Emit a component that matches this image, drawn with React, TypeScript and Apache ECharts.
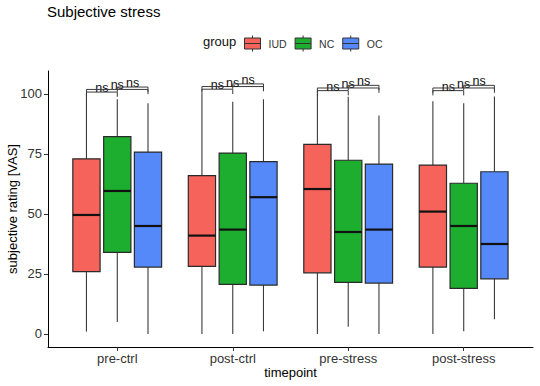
import React, { useEffect, useRef } from 'react';
import * as echarts from 'echarts';

const timepoints = ['pre-ctrl', 'post-ctrl', 'pre-stress', 'post-stress'];
const groups = ['IUD', 'NC', 'OC'];
const groupColors = ['#F5635B', '#1DAE30', '#5589FA'];
const yTicks = [0, 25, 50, 75, 100];
const xTicks = [1, 2, 3, 4];

// [min, Q1, median, Q3, max] per timepoint
const iudStats = [
  [1, 26, 49.6, 73, 100],
  [0, 28.2, 41, 66, 100],
  [0, 25.5, 60.4, 79, 100],
  [0, 27.9, 51, 70.4, 97],
];
const ncStats = [
  [5, 34, 59.6, 82.2, 97.8],
  [0, 20.7, 43.5, 75.4, 96.8],
  [3, 21.5, 42.5, 72.4, 98.9],
  [1.1, 19, 45, 62.8, 96.1],
];
const ocStats = [
  [0, 27.9, 45, 75.8, 96.1],
  [1.1, 20.4, 57, 71.8, 97.8],
  [0, 21.2, 43.5, 70.8, 91],
  [6.1, 23, 37.5, 67.6, 99],
];
const groupStats = [iudStats, ncStats, ocStats];

// pairwise comparisons (group indices) and bracket heights per timepoint
const comparisons = [[0, 1], [0, 2], [1, 2]];
const bracketLevels = [
  [100.8, 101.9, 102.9],
  [102.0, 103.1, 104.2],
  [101.4, 102.5, 103.6],
  [101.4, 102.5, 103.6],
];
const bracketLabel = 'ns';

const FONT = '"Liberation Sans", Arial, Helvetica, sans-serif';
const dodge = [-0.267, 0, 0.266];
const boxHalf = 0.118;
const tipLen = 2;
const keyPath = 'path://M0 2.5 L16 2.5 L16 13.5 L0 13.5 Z M0 8 L16 8 M8 0 L8 2.5 M8 13.5 L8 16';

export default function App() {
  const ref = useRef<HTMLDivElement>(null);
  useEffect(() => {
    if (!ref.current) return;
    const chart = echarts.init(ref.current, null, { renderer: 'svg' });

    const boxSeries = groups.map((g, gi) => ({
      type: 'custom',
      name: g,
      itemStyle: { color: groupColors[gi] },
      encode: { x: 0, y: [1, 2, 3, 4, 5] },
      data: groupStats[gi].map((s, ti) => [xTicks[ti], ...s]),
      renderItem: (params: any, api: any) => {
        const cx = api.value(0) + dodge[gi];
        const pMin = api.coord([cx, api.value(1)]);
        const pQ1 = api.coord([cx, api.value(2)]);
        const pMed = api.coord([cx, api.value(3)]);
        const pQ3 = api.coord([cx, api.value(4)]);
        const pMax = api.coord([cx, api.value(5)]);
        const left = api.coord([cx - boxHalf, 0])[0];
        const right = api.coord([cx + boxHalf, 0])[0];
        return {
          type: 'group',
          children: [
            { type: 'line', shape: { x1: pMin[0], y1: pMin[1], x2: pMin[0], y2: pQ1[1] }, style: { stroke: '#3a3a3a', lineWidth: 1.1 } },
            { type: 'line', shape: { x1: pMax[0], y1: pMax[1], x2: pMax[0], y2: pQ3[1] }, style: { stroke: '#3a3a3a', lineWidth: 1.1 } },
            { type: 'rect', shape: { x: left, y: pQ3[1], width: right - left, height: pQ1[1] - pQ3[1] }, style: { fill: groupColors[gi], stroke: '#2a2a2a', lineWidth: 1.2 } },
            { type: 'line', shape: { x1: left, y1: pMed[1], x2: right, y2: pMed[1] }, style: { stroke: '#111', lineWidth: 2.2 } },
          ],
        };
      },
    }));

    const bracketData: number[][] = [];
    xTicks.forEach((t, ti) => {
      comparisons.forEach((c, ci) => {
        bracketData.push([t, c[0], c[1], bracketLevels[ti][ci]]);
      });
    });

    const bracketSeries = {
      type: 'custom',
      name: 'signif',
      silent: true,
      encode: { x: 0, y: 3 },
      data: bracketData,
      renderItem: (params: any, api: any) => {
        const t = api.value(0);
        const g1 = api.value(1);
        const g2 = api.value(2);
        const lv = api.value(3);
        const pL = api.coord([t + dodge[g1], lv]);
        const pR = api.coord([t + dodge[g2], lv]);
        const tipY = api.coord([t, lv - tipLen])[1];
        return {
          type: 'group',
          children: [
            {
              type: 'polyline',
              shape: { points: [[pL[0], tipY], pL, pR, [pR[0], tipY]] },
              style: { stroke: '#3a3a3a', lineWidth: 1, fill: 'none' },
            },
            {
              type: 'text',
              style: {
                text: bracketLabel,
                x: (pL[0] + pR[0]) / 2,
                y: pL[1] + 2.5,
                align: 'center',
                verticalAlign: 'bottom',
                fontSize: 12.5,
                fontFamily: FONT,
                fill: '#111',
              },
            },
          ],
        };
      },
    };

    chart.setOption({
      animation: false,
      backgroundColor: '#fff',
      title: {
        text: 'Subjective stress',
        left: 47,
        top: 4,
        padding: 0,
        textStyle: { fontSize: 15, fontWeight: 'normal', color: '#000', fontFamily: FONT },
      },
      legend: {
        left: 244,
        top: 35,
        padding: 0,
        itemWidth: 16,
        itemHeight: 16,
        itemGap: 8,
        selectedMode: false,
        data: groups.map((g) => ({ name: g, icon: keyPath })),
        itemStyle: { borderColor: '#333', borderWidth: 1 },
        textStyle: { fontSize: 10.5, color: '#333', fontFamily: FONT, padding: [0, 0, 0, 3] },
      },
      graphic: [
        {
          type: 'text',
          left: 203,
          top: 35,
          style: { text: 'group', fontSize: 13, fontWeight: 'normal', fill: '#111', fontFamily: FONT },
        },
      ],
      grid: { left: 48, top: 71, width: 485, height: 276, outerBoundsMode: 'none', containLabel: false },
      xAxis: {
        type: 'value',
        min: 0.4,
        max: 4.6,
        name: 'timepoint',
        nameLocation: 'middle',
        nameGap: 19,
        nameMoveOverlap: false,
        nameTextStyle: { fontSize: 13, color: '#000', fontFamily: FONT },
        splitLine: { show: false },
        axisLine: { show: true, onZero: false, lineStyle: { color: '#000', width: 1 } },
        axisTick: { show: true, customValues: xTicks, length: 4, lineStyle: { color: '#333' } },
        axisLabel: {
          customValues: xTicks,
          margin: 5,
          fontSize: 13,
          color: '#333',
          fontFamily: FONT,
          formatter: (v: number) => timepoints[Math.round(v) - 1] ?? '',
        },
      },
      yAxis: {
        type: 'value',
        min: -5.42,
        max: 109.58,
        name: 'subjective rating [VAS]',
        nameLocation: 'middle',
        nameGap: 29,
        nameMoveOverlap: false,
        nameTextStyle: { fontSize: 13, color: '#000', fontFamily: FONT },
        splitLine: { show: false },
        axisLine: { show: true, onZero: false, lineStyle: { color: '#000', width: 1 } },
        axisTick: { show: true, customValues: yTicks, length: 4, lineStyle: { color: '#333' } },
        axisLabel: { customValues: yTicks, margin: 6, fontSize: 13, color: '#333', fontFamily: FONT },
      },
      series: [...boxSeries, bracketSeries],
    });
    return () => chart.dispose();
  }, []);
  return <div ref={ref} style={{ position: 'fixed', left: 0, top: 0, width: 540, height: 386 }} />;
}
